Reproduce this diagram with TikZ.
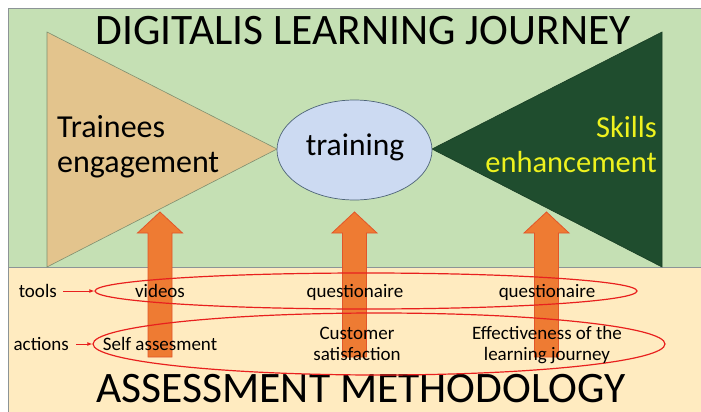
\documentclass[tikz,border=0pt]{standalone}
\usepackage{fontspec}
\setmainfont{Carlito}
\usetikzlibrary{shapes.geometric,arrows.meta}
\definecolor{bggreen}{HTML}{C5E0B4}
\definecolor{bgbeige}{HTML}{FFEBC0}
\definecolor{framegray}{HTML}{8C9496}
\definecolor{tanfill}{HTML}{E3C48D}
\definecolor{tanline}{HTML}{7F8F6F}
\definecolor{skyfill}{HTML}{CCDAF2}
\definecolor{skyline}{HTML}{4E6478}
\definecolor{forest}{HTML}{1F4D2E}
\definecolor{arrfill}{HTML}{EE7B33}
\definecolor{arrline}{HTML}{E2562A}
\definecolor{redline}{HTML}{E8201E}
\definecolor{skillyellow}{HTML}{EEF21E}
\tikzset{
  bigtitle/.style={font=\fontsize{43.5}{50}\selectfont, anchor=base, inner sep=0pt},
  midtext/.style={font=\fontsize{31.5}{36}\selectfont, inner sep=0pt},
  smalltext/.style={font=\fontsize{19}{22}\selectfont, anchor=base, inner sep=0pt},
  blockarr/.style={fill=arrfill, draw=arrline, line width=0.8pt, line join=miter},
  redell/.style={ellipse, draw=redline, line width=1.2pt, inner sep=0pt},
  redarr/.style={draw=redline, line width=1pt, -{Latex[length=5pt,width=4pt]}}
}
\begin{document}
\begin{tikzpicture}[x=1pt,y=-1pt]
\useasboundingbox (0,0) rectangle (701,412);
\fill[white] (0,0) rectangle (701,412);
% panels
\fill[bggreen] (8,9) rectangle (701,267);
\fill[bgbeige] (8,267) rectangle (701,412);
\draw[framegray, line width=1pt] (8,412) -- (8,9) -- (701,9);
\draw[framegray, line width=1pt] (8,267) -- (701,267);
% triangles
\draw[fill=tanfill, draw=tanline, line width=0.6pt] (47,32) -- (277,149) -- (47,267) -- cycle;
\draw[fill=forest, draw=forest!80!black, line width=0.6pt] (662,32) -- (432,149) -- (662,267) -- cycle;
% training ellipse
\node[ellipse, draw=skyline, fill=skyfill, line width=0.7pt, minimum width=155pt, minimum height=100pt, inner sep=0pt] (train) at (354.5,150) {};
% titles
\node[bigtitle] (title) at (363,45) {DIGITALIS LEARNING JOURNEY};
\node[bigtitle] (bottitle) at (361,402) {ASSESSMENT METHODOLOGY};
% big texts
\node[midtext, font=\fontsize{32}{36}\selectfont, anchor=base west] (trainees) at (57,137) {Trainees};
\node[midtext, font=\fontsize{32}{36}\selectfont, anchor=base west] (engage) at (57,172) {engagement};
\node[midtext, anchor=base] (trainlbl) at (355,155) {training};
\node[midtext, font=\fontsize{30.5}{36}\selectfont, anchor=base east, text=skillyellow] (skills) at (657,137) {Skills};
\node[midtext, font=\fontsize{30.5}{36}\selectfont, anchor=base east, text=skillyellow] (enhance) at (657,172) {enhancement};
% block arrows
\foreach \c in {160,354.5,546.5}{
  \draw[blockarr] (\c-22.5,233) -- (\c,212) -- (\c+22.5,233) -- (\c+12,233) -- (\c+12,357) -- (\c-12,357) -- (\c-12,233) -- cycle;
}
% red ellipses
\node[redell, minimum width=542pt, minimum height=36pt] (toolsell) at (366,291) {};
\node[redell, minimum width=572pt, minimum height=62pt] (actell) at (379,344) {};
% labels
\node[smalltext, anchor=base east] (tools) at (57,297) {tools};
\node[smalltext, anchor=base east] (actions) at (69,350) {actions};
\draw[redarr] (tools.east |- toolsell.west) ++(6pt,0) coordinate (t0) -- (toolsell.west);
\draw[redarr] (actions.east |- actell.west) ++(7pt,0) coordinate (a0) -- (actell.west);
% items
\node[smalltext] (videos) at (160,297) {videos};
\node[smalltext] (quest1) at (355,297) {questionaire};
\node[smalltext] (quest2) at (547,297) {questionaire};
\node[smalltext] (selfas) at (160,350) {Self assesment};
\node[smalltext] (cust1) at (357,339) {Customer};
\node[smalltext] (cust2) at (357,360) {satisfaction};
\node[smalltext] (eff1) at (547,339) {Effectiveness of the};
\node[smalltext] (eff2) at (547,360) {learning journey};
\end{tikzpicture}
\end{document}
